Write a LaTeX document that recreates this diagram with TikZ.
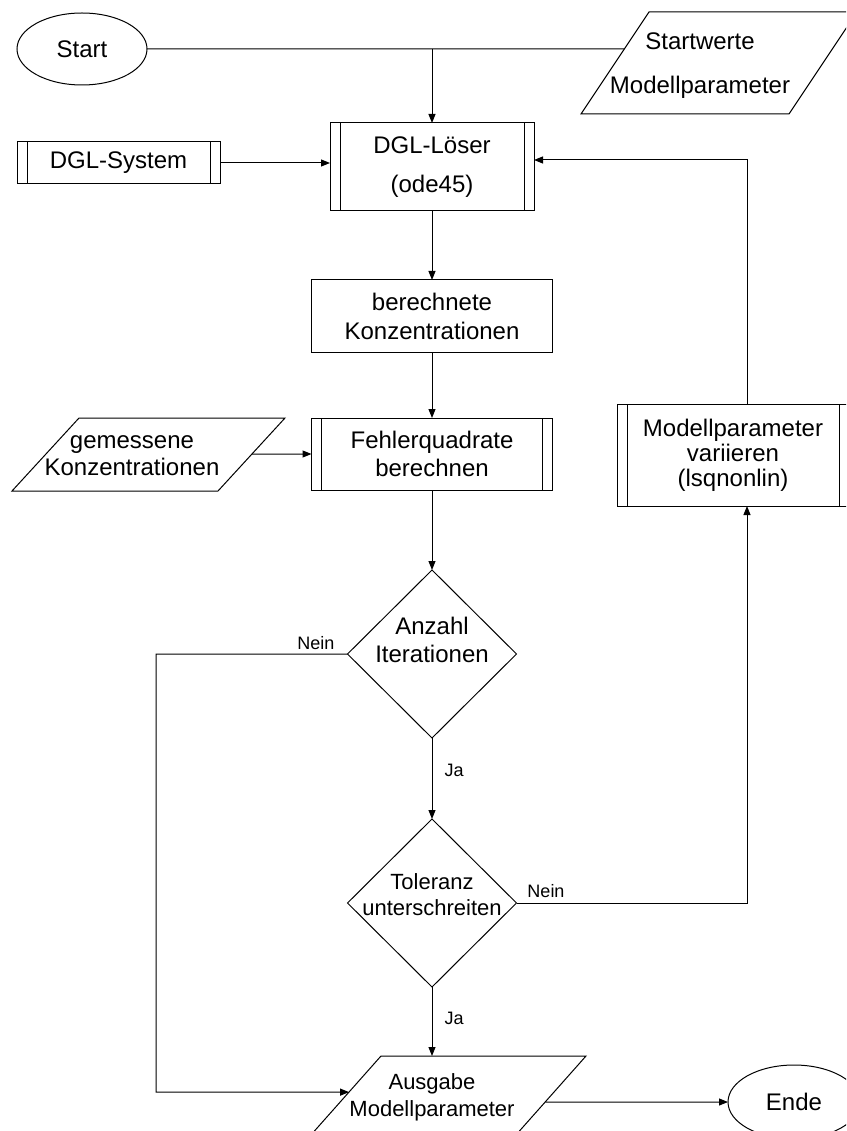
\documentclass[tikz,border=0pt]{standalone}
\usepackage{fontspec}
\setmainfont{Liberation Sans}
\usetikzlibrary{arrows.meta,shapes.geometric,calc}

% parallelogram outline on an invisible rectangle node; #2 = horizontal slant
\newcommand\drawio[2]{%
  \coordinate (#1tl) at ([xshift=#2]#1.north west);
  \coordinate (#1br) at ([xshift=-#2]#1.south east);
  \draw[flow] (#1tl) -- (#1.north east) -- (#1br) -- (#1.south west) -- cycle;}

\tikzset{
  every node/.style={inner sep=0pt, outer sep=0pt},
  flow/.style={line width=1pt},
  arr/.style={flow, -{Triangle[length=9pt,width=7pt]}},
  big/.style={font=\fontsize{24}{#1}\selectfont, align=center},
  mid/.style={font=\fontsize{22}{#1}\selectfont, align=center},
  lbl/.style={font=\fontsize{18}{20}\selectfont},
  term/.style={ellipse, draw, line width=1pt},
  proc/.style={rectangle, draw, line width=1pt},
  subproc/.style={proc, path picture={
      \draw[line width=1pt]
        ([xshift=10pt]path picture bounding box.north west) -- ([xshift=10pt]path picture bounding box.south west)
        ([xshift=-10pt]path picture bounding box.north east) -- ([xshift=-10pt]path picture bounding box.south east);}},
  decision/.style={diamond, draw, line width=1pt},
  ioshape/.style={rectangle},
}

\begin{document}
\begin{tikzpicture}[x=1pt, y=-1pt]
\path[use as bounding box, fill=white] (0,0) rectangle (846,1131);
\clip (0,0) rectangle (846,1131);

% start and initial values
\node[term, big=28, minimum width=130pt, minimum height=72pt] (start) at (82,49) {Start};
\node[ioshape, minimum width=276pt, minimum height=102pt] (sw) at (719,63) {};
\drawio{sw}{68pt}
\node[big=44] (swt) at (700,66) {Startwerte\\Modellparameter};

% solver
\node[subproc, big=39, minimum width=204pt, minimum height=88pt] (dgl) at (432,167) {DGL-Löser\\(ode45)};
\node[subproc, big=28, minimum width=203pt, minimum height=42pt] (dglsys) at (118.5,163) {DGL-System};

% concentrations and error squares
\node[proc, big=29, minimum width=241pt, minimum height=72pt] (berech) at (432,316) {berechnete\\Konzentrationen};
\node[subproc, big=28, minimum width=241pt, minimum height=72pt] (fehler) at (432,454) {Fehlerquadrate\\berechnen};
\node[ioshape, minimum width=273pt, minimum height=73pt] (gem) at (148.5,454.5) {};
\drawio{gem}{67pt}
\node[big=27] (gemt) at (132,456) {gemessene\\Konzentrationen};

% parameter variation
\node[subproc, big=25, minimum width=232pt, minimum height=102pt] (var) at (733,455) {Modellparameter\\variieren\\(lsqnonlin)};

% decisions
\node[decision, minimum width=169pt, minimum height=168pt] (anz) at (432,654) {};
\node[big=28] (anzt) at (432,640) {Anzahl\\Iterationen};
\node[decision, minimum width=169pt, minimum height=168pt] (tol) at (432,903) {};
\node[mid=26] (tolt) at (432,895) {Toleranz\\unterschreiten};

% output and end
\node[ioshape, minimum width=276pt, minimum height=80pt] (aus) at (448,1096) {};
\drawio{aus}{71pt}
\node[mid=27] (aust) at (432,1097) {Ausgabe\\Modellparameter};
\node[term, big=28, minimum width=132pt, minimum height=74pt] (ende) at (794,1102) {Ende};

% branch labels
\node[lbl] (nein1) at (316,643) {Nein};
\node[lbl] (ja1) at (454,770) {Ja};
\node[lbl] (nein2) at (546,891) {Nein};
\node[lbl] (ja2) at (454,1018) {Ja};

% connectors
\draw[flow] (start.east) -- (intersection of start.west--start.east and sw.south west--swtl);
\draw[arr] (start.east -| dgl.north) -- (dgl.north);
\draw[arr] (dglsys.east) -- (dglsys.east -| dgl.west);
\draw[arr] ([xshift=14pt]var.north) |- ([yshift=7pt]dgl.east);
\draw[arr] (dgl.south) -- (berech.north);
\draw[arr] (berech.south) -- (fehler.north);
\draw[arr] (intersection of fehler.west--fehler.east and gem.north east--gembr) -- (fehler.west);
\draw[arr] (fehler.south) -- (anz.north);
\draw[arr] (anz.south) -- (tol.north);
\draw[arr] (tol.south) -- (tol.south |- aus.north);
\draw[arr] (tol.east) -| ([xshift=14pt]var.south);
\coordinate (loopa) at (156,1092);
\coordinate (loopb) at (300,1092);
\draw[arr] (anz.west) -| (loopa) -- (intersection of loopa--loopb and aus.south west--austl);
\draw[arr] (intersection of ende.west--ende.east and aus.north east--ausbr) -- (ende.west);
\end{tikzpicture}
\end{document}
